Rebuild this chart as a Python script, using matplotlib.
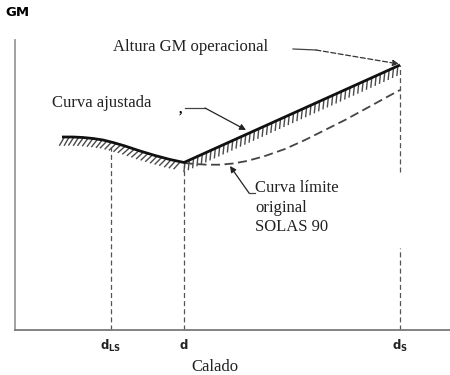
import matplotlib
matplotlib.use("Agg")
import matplotlib.pyplot as plt
import matplotlib.patheffects as pe

# ---- data (draft on x, GM on y; arbitrary units) ----
draft_marks = [96, 169, 385]
draft_labels = [r'$\mathbf{d_{LS}}$', r'$\mathbf{d}$', r'$\mathbf{d_{S}}$']

adj_x = [47, 58, 68, 78, 88, 98, 110, 125, 140, 155, 169, 385]
adj_y = [193, 193, 192.5, 191.5, 190, 187.5, 184, 179, 174.5, 170.5, 167.5, 265]

lim_x = [169, 180, 192, 205, 218, 232, 250, 270, 290, 310, 330, 352, 372, 385]
lim_y = [167, 166, 165.3, 165.3, 166.5, 169, 174, 181, 190, 200, 210, 222, 233, 240]

guide_top = [183, 167, 265]

plt.rcParams['mathtext.fontset'] = 'dejavusans'
serif = 'Liberation Serif'

fig = plt.figure(figsize=(4.5, 3.75), dpi=100)
ax = fig.add_axes([0, 0, 1, 1])
ax.set_xlim(-15, 435)
ax.set_ylim(-45, 330)
ax.patch.set_alpha(0)

for s in ['top', 'right']:
    ax.spines[s].set_visible(False)
ax.spines['left'].set_position(('data', 0))
ax.spines['bottom'].set_position(('data', 0))
ax.spines['left'].set_bounds(0, 290)
ax.spines['bottom'].set_bounds(0, 435)
ax.spines['left'].set_color('#9a9a9a')
ax.spines['bottom'].set_color('#7a7a7a')
ax.spines['left'].set_linewidth(1.3)
ax.spines['bottom'].set_linewidth(1.3)
ax.set_yticks([])
ax.set_xticks(draft_marks)
ax.set_xticklabels(draft_labels)
ax.tick_params(axis='x', length=0, pad=6, labelsize=8.5, colors='#222222')

# vertical dashed guides
dash_kw = dict(color='#555555', lw=0.9, ls=(0, (4, 2.5)))
ax.plot([draft_marks[0]] * 2, [0, guide_top[0]], **dash_kw)
ax.plot([draft_marks[1]] * 2, [0, guide_top[1]], **dash_kw)
ax.plot([draft_marks[2]] * 2, [0, 82], **dash_kw)
ax.plot([draft_marks[2]] * 2, [158, guide_top[2]], **dash_kw)

# limit curve (dashed)
ax.plot(lim_x, lim_y, color='#444444', lw=1.3, ls=(0, (5, 2.5)))

# adjusted curve with hatching below
ax.plot(adj_x, adj_y, color='#333333', lw=0.01,
        path_effects=[pe.withTickedStroke(angle=-120, spacing=3.4, length=2.0,
                                          linewidth=1.0, foreground='#4a4a4a')])
ax.plot(adj_x, adj_y, color='#111111', lw=2.0, solid_capstyle='butt',
        solid_joinstyle='round')

# labels
ax.text(-10, 318, 'GM', fontsize=9.5, fontweight='bold', va='center', ha='left',
        family='DejaVu Sans')
ax.text(200, -37, 'Calado', fontsize=12, family=serif, ha='center', va='center',
        color='#222222')

ax.text(98, 283, 'Altura GM operacional', fontsize=12, family=serif,
        va='center', ha='left', color='#222222')
ax.plot([278, 301], [281, 280], color='#444444', lw=0.9)
ax.annotate('', xy=(384, 266), xytext=(301, 280),
            arrowprops=dict(arrowstyle='-|>', color='#333333', lw=0.9, ls=(0, (4, 2)),
                            mutation_scale=9, shrinkA=0, shrinkB=0))

ax.text(37, 227, 'Curva ajustada', fontsize=12, family=serif,
        va='center', ha='left', color='#222222')
ax.text(166, 221, ',', fontsize=10, family=serif, va='center', ha='center',
        fontweight='bold')
ax.plot([170, 190], [222, 222], color='#444444', lw=0.9)
ax.annotate('', xy=(231, 200), xytext=(190, 222),
            arrowprops=dict(arrowstyle='-|>', color='#222222', lw=0.9,
                            mutation_scale=9, shrinkA=0, shrinkB=0))

for i, t in enumerate(['Curva límite', 'original', 'SOLAS 90']):
    ax.text(240, 142 - 19.5 * i, t, fontsize=12, family=serif,
            va='center', ha='left', color='#222222')
ax.plot([240, 234], [137, 137], color='#444444', lw=0.9)
ax.annotate('', xy=(215, 164), xytext=(234, 137),
            arrowprops=dict(arrowstyle='-|>', color='#222222', lw=0.9,
                            mutation_scale=9, shrinkA=0, shrinkB=0))

fig.savefig('out.png', dpi=100)
